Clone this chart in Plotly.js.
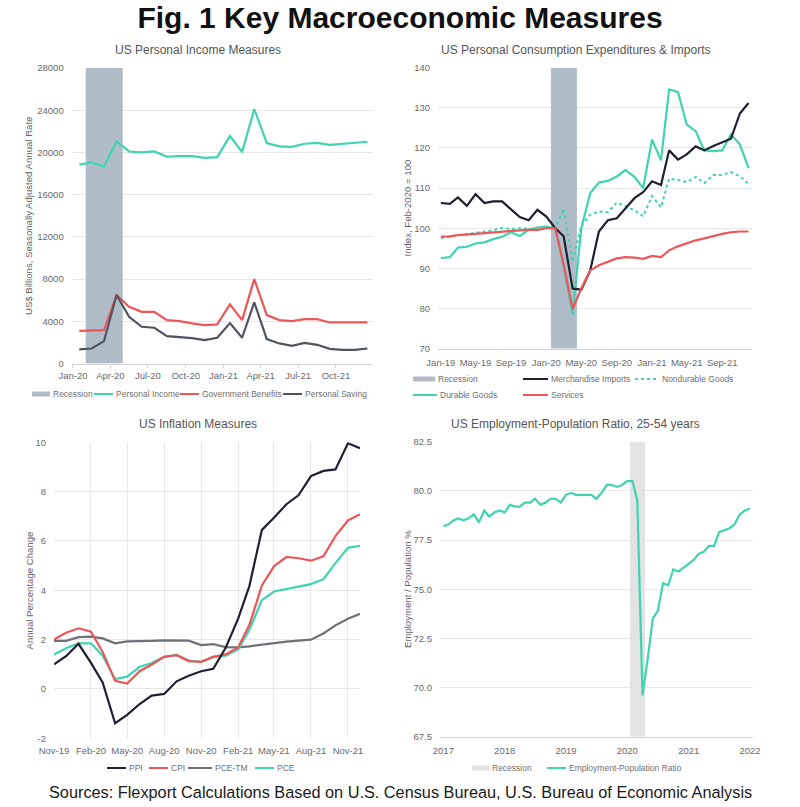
<!DOCTYPE html>
<html>
<head>
<meta charset="utf-8">
<script src="https://cdn.plot.ly/plotly-3.0.1.min.js"></script>
<style>
  html, body { margin: 0; padding: 0; background: #ffffff; }
  #chart { width: 800px; height: 807px; }
</style>
</head>
<body>
<div id="chart"></div>
<script>
// ---------------------------------------------------------------------------
// Data
// ---------------------------------------------------------------------------

// US personal income measures, US$ billions, SAAR (monthly, Jan-2020 .. Dec-2021)
const incomeMonths = [
  '2020-01','2020-02','2020-03','2020-04','2020-05','2020-06','2020-07','2020-08','2020-09','2020-10','2020-11','2020-12',
  '2021-01','2021-02','2021-03','2021-04','2021-05','2021-06','2021-07','2021-08','2021-09','2021-10','2021-11','2021-12'
];
const personalIncome = [18850, 19050, 18670, 21040, 20090, 20000, 20090, 19590, 19650, 19650, 19490, 19550,
                        21550, 20030, 24110, 20880, 20570, 20530, 20820, 20910, 20720, 20820, 20910, 21010];
const governmentBenefits = [3100, 3100, 3160, 6490, 5380, 4900, 4900, 4110, 4020, 3800, 3640, 3700,
                            5600, 4110, 8000, 4590, 4110, 4020, 4210, 4210, 3890, 3890, 3890, 3890];
const personalSaving = [1330, 1420, 2120, 6490, 4430, 3480, 3390, 2590, 2500, 2400, 2210, 2440,
                        3830, 2440, 5790, 2310, 1900, 1680, 1960, 1770, 1390, 1300, 1300, 1420];

// Personal consumption expenditures & merchandise imports, index Feb-2020 = 100 (Jan-2019 .. Dec-2021)
const pceMonths = [
  '2019-01','2019-02','2019-03','2019-04','2019-05','2019-06','2019-07','2019-08','2019-09','2019-10','2019-11','2019-12',
  '2020-01','2020-02','2020-03','2020-04','2020-05','2020-06','2020-07','2020-08','2020-09','2020-10','2020-11','2020-12',
  '2021-01','2021-02','2021-03','2021-04','2021-05','2021-06','2021-07','2021-08','2021-09','2021-10','2021-11','2021-12'
];
const merchandiseImports = [106.3, 106.1, 107.7, 105.6, 108.5, 106.3, 106.7, 106.7, 104.7, 102.8, 102.0, 104.6,
                            102.9, 100.0, 98.0, 85.0, 84.7, 89.5, 99.2, 102.0, 102.5, 105.0, 107.5, 109.0,
                            111.7, 110.8, 119.4, 117.1, 118.4, 120.4, 119.4, 120.5, 121.5, 122.3, 128.6, 131.2];
const nondurableGoods = [97.6, 97.9, 98.3, 98.6, 98.9, 99.2, 99.5, 100.1, 99.8, 100.0, 99.9, 99.6,
                         100.2, 100.0, 104.9, 91.7, 100.5, 103.4, 104.2, 104.0, 106.4, 105.5, 104.5, 103.0,
                         108.0, 105.2, 112.4, 112.0, 111.5, 112.8, 111.3, 113.3, 113.3, 114.0, 113.0, 111.0];
const durableGoods = [92.6, 92.8, 95.2, 95.4, 96.2, 96.5, 97.3, 97.9, 99.0, 98.1, 99.6, 100.2,
                      100.4, 100.0, 90.5, 78.5, 100.0, 108.8, 111.4, 111.8, 112.9, 114.5, 112.8, 110.0,
                      122.1, 116.9, 134.6, 133.9, 125.8, 124.2, 119.4, 119.2, 119.4, 123.4, 120.9, 115.0];
const services = [97.9, 98.0, 98.3, 98.4, 98.6, 98.8, 99.0, 99.2, 99.3, 99.5, 99.6, 99.6,
                  100.0, 100.0, 91.0, 79.9, 85.0, 89.5, 90.8, 91.7, 92.5, 92.8, 92.7, 92.4,
                  93.1, 92.8, 94.5, 95.5, 96.2, 97.0, 97.5, 98.1, 98.6, 99.0, 99.2, 99.2];

// Inflation measures, annual percentage change (Nov-2019 .. Dec-2021)
const inflationMonths = [
  '2019-11','2019-12',
  '2020-01','2020-02','2020-03','2020-04','2020-05','2020-06','2020-07','2020-08','2020-09','2020-10','2020-11','2020-12',
  '2021-01','2021-02','2021-03','2021-04','2021-05','2021-06','2021-07','2021-08','2021-09','2021-10','2021-11','2021-12'
];
const ppi = [1.0, 1.33, 1.83, 1.06, 0.26, -1.39, -1.05, -0.61, -0.27, -0.20, 0.31, 0.54, 0.72, 0.82,
             1.67, 2.85, 4.18, 6.45, 6.94, 7.49, 7.85, 8.63, 8.84, 8.90, 9.96, 9.76];
const cpi = [2.0, 2.28, 2.46, 2.32, 1.5, 0.33, 0.22, 0.72, 0.99, 1.3, 1.37, 1.13, 1.1, 1.3,
             1.4, 1.68, 2.6, 4.2, 4.97, 5.35, 5.3, 5.2, 5.38, 6.2, 6.83, 7.08];
const pceTrimmedMean = [1.95, 1.95, 2.1, 2.12, 2.05, 1.85, 1.93, 1.93, 1.95, 1.97, 1.96, 1.96, 1.78, 1.82,
                        1.7, 1.69, 1.73, 1.8, 1.88, 1.92, 1.96, 2.0, 2.25, 2.58, 2.85, 3.05];
const pce = [1.4, 1.65, 1.85, 1.85, 1.35, 0.4, 0.5, 0.9, 1.05, 1.3, 1.38, 1.15, 1.1, 1.3,
             1.35, 1.6, 2.4, 3.6, 3.95, 4.05, 4.15, 4.25, 4.45, 5.1, 5.72, 5.8];
const inflationTicks = [-2, 0, 2, 4, 6, 8, 10];

// Employment-population ratio, 25-54 years, % (Jan-2017 .. Jan-2022)
const employmentMonths = [
  '2017-01','2017-02','2017-03','2017-04','2017-05','2017-06','2017-07','2017-08','2017-09','2017-10','2017-11','2017-12',
  '2018-01','2018-02','2018-03','2018-04','2018-05','2018-06','2018-07','2018-08','2018-09','2018-10','2018-11','2018-12',
  '2019-01','2019-02','2019-03','2019-04','2019-05','2019-06','2019-07','2019-08','2019-09','2019-10','2019-11','2019-12',
  '2020-01','2020-02','2020-03','2020-04','2020-05','2020-06','2020-07','2020-08','2020-09','2020-10','2020-11','2020-12',
  '2021-01','2021-02','2021-03','2021-04','2021-05','2021-06','2021-07','2021-08','2021-09','2021-10','2021-11','2021-12',
  '2022-01'
];
const employmentRatio = [
  78.2, 78.3, 78.5, 78.6, 78.5, 78.6, 78.8, 78.4, 79.0, 78.7, 78.9, 79.0,
  78.9, 79.3, 79.2, 79.2, 79.4, 79.4, 79.6, 79.3, 79.4, 79.6, 79.6, 79.4,
  79.8, 79.9, 79.8, 79.8, 79.8, 79.8, 79.6, 79.9, 80.3, 80.3, 80.2, 80.3,
  80.5, 80.5, 79.5, 69.6, 71.4, 73.5, 73.9, 75.3, 75.2, 76.0, 75.9, 76.1,
  76.3, 76.5, 76.8, 76.9, 77.2, 77.2, 77.9, 78.0, 78.1, 78.3, 78.8, 79.0,
  79.1
];

// COVID-19 recession months
const recessionMonths = ['2020-02', '2020-03', '2020-04'];

// ---------------------------------------------------------------------------
// Styles and geometry helpers
// ---------------------------------------------------------------------------
const FONT = 'Liberation Sans, Arial, sans-serif';
const W = 800, H = 807;
const px = v => v / W;          // page pixel -> paper x
const py = v => 1 - v / H;      // page pixel -> paper y

const C = {
  teal: '#3fd3b0',
  red: '#ec5658',
  slate: '#4e5560',
  ink: '#1d2130',
  gray: '#6e717a',
  recession: '#b0bdc8',
  recessionLight: '#e3e3e3',
  grid: '#e7e7e7',
  axis: '#d3d3d3',
  tick: '#6a6a6a',
  label: '#666666'
};
const LINE_W = 2.2;

const DAY = 86400000;
function monthStartMs(s) { const [y, m] = s.split('-').map(Number); return Date.UTC(y, m - 1, 1); }
function nextMonthMs(s) { const [y, m] = s.split('-').map(Number); return Date.UTC(y, m, 1); }
function msToDate(ms) { return new Date(ms).toISOString().slice(0, 19).replace('T', ' '); }

// Span covered by the recession months. With points at mid-month the span runs
// month start to month end; with points at month start it is shifted half a month.
function recessionSpan(pointsAtMidMonth) {
  let a = monthStartMs(recessionMonths[0]);
  let b = nextMonthMs(recessionMonths[recessionMonths.length - 1]);
  if (!pointsAtMidMonth) { a -= 15 * DAY; b -= 15 * DAY; }
  return [msToDate(a), msToDate(b)];
}

function recessionTrace(xa, ya, yRange, color, midMonth, name) {
  const [a, b] = recessionSpan(midMonth);
  return {
    type: 'scatter', mode: 'none', name: name,
    x: [a, a, b, b, a], y: [yRange[0], yRange[1], yRange[1], yRange[0], yRange[0]],
    fill: 'toself', fillcolor: color,
    xaxis: xa, yaxis: ya, hoverinfo: 'skip'
  };
}

function lineTrace(name, x, y, xa, ya, color, extra) {
  return Object.assign({
    type: 'scatter', mode: 'lines', name: name, x: x, y: y,
    xaxis: xa, yaxis: ya,
    line: { color: color, width: LINE_W }
  }, extra || {});
}

const INCOME_RANGE = [0, 28000];
const PCE_RANGE = [70, 140];
const INFL_RANGE = [-2, 10];
const EMP_RANGE = [67.5, 82.5];

const midMonth = { xperiod: 'M1', xperiodalignment: 'middle' };

// ---------------------------------------------------------------------------
// Traces
// ---------------------------------------------------------------------------
const traces = [
  // Panel 1: personal income
  recessionTrace('x', 'y', INCOME_RANGE, C.recession, true, 'Recession'),
  lineTrace('Personal Income', incomeMonths, personalIncome, 'x', 'y', C.teal, midMonth),
  lineTrace('Government Benefits', incomeMonths, governmentBenefits, 'x', 'y', C.red, midMonth),
  lineTrace('Personal Saving', incomeMonths, personalSaving, 'x', 'y', C.slate, midMonth),

  // Panel 2: consumption & imports
  recessionTrace('x2', 'y2', PCE_RANGE, C.recession, false, 'Recession'),
  lineTrace('Nondurable Goods', pceMonths, nondurableGoods, 'x2', 'y2', C.teal,
            { line: { color: C.teal, width: 2, dash: 'dot' } }),
  lineTrace('Durable Goods', pceMonths, durableGoods, 'x2', 'y2', C.teal),
  lineTrace('Merchandise Imports', pceMonths, merchandiseImports, 'x2', 'y2', C.ink),
  lineTrace('Services', pceMonths, services, 'x2', 'y2', C.red),

  // Panel 3: inflation
  lineTrace('PCE-TM', inflationMonths, pceTrimmedMean, 'x3', 'y3', C.gray),
  lineTrace('PCE', inflationMonths, pce, 'x3', 'y3', C.teal),
  lineTrace('CPI', inflationMonths, cpi, 'x3', 'y3', C.red),
  lineTrace('PPI', inflationMonths, ppi, 'x3', 'y3', C.ink),

  // Panel 4: employment-population ratio
  recessionTrace('x4', 'y4', EMP_RANGE, C.recessionLight, false, 'Recession'),
  lineTrace('Employment-Population Ratio', employmentMonths, employmentRatio, 'x4', 'y4', C.teal)
];

// ---------------------------------------------------------------------------
// Axes
// ---------------------------------------------------------------------------
const tickfont = { family: FONT, size: 9.5, color: C.tick };

function xAxis(domain, anchor, opts) {
  return Object.assign({
    type: 'date', domain: domain, anchor: anchor,
    showgrid: false, zeroline: false,
    showline: true, linecolor: C.axis, linewidth: 1,
    ticks: 'outside', ticklen: 3, tickcolor: C.axis,
    tickfont: tickfont, fixedrange: true
  }, opts);
}
function yAxis(domain, anchor, opts) {
  return Object.assign({
    domain: domain, anchor: anchor,
    showgrid: true, gridcolor: C.grid, gridwidth: 1,
    zeroline: false, showline: false, ticks: '',
    ticklabelstandoff: 7,
    tickfont: tickfont, fixedrange: true
  }, opts);
}

const layout = {
  width: W, height: H,
  margin: { l: 0, r: 0, t: 0, b: 0 },
  paper_bgcolor: '#ffffff', plot_bgcolor: 'rgba(0,0,0,0)',
  showlegend: false, hovermode: false,
  font: { family: FONT, color: C.label },
  title: {
    text: 'Fig. 1 Key Macroeconomic Measures',
    x: 0.5, xanchor: 'center', y: py(17), yanchor: 'middle', yref: 'container',
    font: { family: FONT, size: 30, color: '#111111', weight: 700 }
  },

  xaxis: xAxis([px(71.7), px(373)], 'y', {
    range: ['2019-12-29', '2021-12-30'], tick0: '2020-01-01', dtick: 'M3', tickformat: '%b-%y'
  }),
  yaxis: yAxis([py(363.5), py(68)], 'x', {
    range: INCOME_RANGE, dtick: 4000, tickformat: 'd'
  }),

  xaxis2: xAxis([px(438), px(752)], 'y2', {
    range: ['2018-12-22', '2021-12-13'], tick0: '2019-01-01', dtick: 'M4', tickformat: '%b-%y',
    ticks: '', ticklabelstandoff: 5
  }),
  yaxis2: yAxis([py(348.7), py(67.7)], 'x2', {
    range: PCE_RANGE, dtick: 10
  }),

  xaxis3: xAxis([px(54), px(360)], 'y3', {
    range: ['2019-11-01', '2021-12-01'], tick0: '2019-11-01', dtick: 'M3', tickformat: '%b-%y',
    showgrid: true, gridcolor: C.grid, showline: false, ticks: '', ticklabelstandoff: 5
  }),
  yaxis3: yAxis([py(738.3), py(442.3)], 'x3', {
    range: INFL_RANGE, tickvals: inflationTicks, ticktext: inflationTicks.map(String)
  }),

  xaxis4: xAxis([px(440), px(752.7)], 'y4', {
    range: ['2016-12-12', '2022-01-17'], tick0: '2017-01-01', dtick: 'M12', tickformat: '%Y',
    ticks: '', ticklabelstandoff: 5
  }),
  yaxis4: yAxis([py(736.7), py(441.7)], 'x4', {
    range: EMP_RANGE, dtick: 2.5, tickformat: '.1f'
  }),

  shapes: [],
  annotations: []
};

// ---------------------------------------------------------------------------
// Panel titles, axis titles, footer
// ---------------------------------------------------------------------------
function text(t, xPix, yPix, size, color, opts) {
  layout.annotations.push(Object.assign({
    text: t, xref: 'paper', yref: 'paper', x: px(xPix), y: py(yPix),
    xanchor: 'center', yanchor: 'middle', showarrow: false, borderpad: 0,
    font: { family: FONT, size: size, color: color }
  }, opts || {}));
}

text('US Personal Income Measures', 197.5, 50, 12, '#555555');
text('US Personal Consumption Expenditures &amp; Imports', 575.8, 50, 12, '#555555');
text('US Inflation Measures', 197.5, 424, 12, '#555555');
text('US Employment-Population Ratio, 25-54 years', 575.7, 424, 12, '#555555');

text('US$ Billions, Seasonally Adjusted Annual Rate', 29, 216, 9.6, C.label, { textangle: -90 });
text('Index, Feb-2020 = 100', 407, 208.5, 9.6, C.label, { textangle: -90 });
text('Annual Percentage Change', 29, 590.5, 9.6, C.label, { textangle: -90 });
text('Employment / Population %', 407, 589, 9.6, C.label, { textangle: -90 });

text('Sources: Flexport Calculations Based on U.S. Census Bureau, U.S. Bureau of Economic Analysis',
     400, 792, 16.3, '#1a1a1a');

// ---------------------------------------------------------------------------
// Legends (one row or two under each panel); names and styles come from the traces
// ---------------------------------------------------------------------------
function traceStyle(name, xa) {
  const t = traces.find(tr => tr.name === name && tr.xaxis === xa);
  if (t.fill) return { box: true, color: t.fillcolor };
  return { box: false, color: t.line.color, dash: t.line.dash || 'solid' };
}

function legendItem(name, xa, x0, x1, yPix) {
  const st = traceStyle(name, xa);
  if (st.box) {
    layout.shapes.push({
      type: 'rect', xref: 'paper', yref: 'paper',
      x0: px(x0), x1: px(x1), y0: py(yPix - 2.5), y1: py(yPix + 2.5),
      fillcolor: st.color, line: { width: 0 }
    });
  } else {
    layout.shapes.push({
      type: 'line', xref: 'paper', yref: 'paper',
      x0: px(x0), x1: px(x1), y0: py(yPix), y1: py(yPix),
      line: { color: st.color, width: 2, dash: st.dash }
    });
  }
  text(name, x1 + 2, yPix, 8.5, '#707070', { xanchor: 'left' });
}

legendItem('Recession', 'x', 32, 50, 394);
legendItem('Personal Income', 'x', 94, 113, 394);
legendItem('Government Benefits', 'x', 180, 199, 394);
legendItem('Personal Saving', 'x', 283, 302, 394);

legendItem('Recession', 'x2', 413, 435, 379);
legendItem('Merchandise Imports', 'x2', 523, 548, 379);
legendItem('Nondurable Goods', 'x2', 635, 659, 379);
legendItem('Durable Goods', 'x2', 413, 437, 395);
legendItem('Services', 'x2', 523, 548, 395);

legendItem('PPI', 'x3', 107, 126, 768);
legendItem('CPI', 'x3', 149, 168, 768);
legendItem('PCE-TM', 'x3', 188, 212, 768);
legendItem('PCE', 'x3', 255, 274, 768);

legendItem('Recession', 'x4', 472, 489, 768);
legendItem('Employment-Population Ratio', 'x4', 547, 566, 768);

Plotly.newPlot('chart', traces, layout, { staticPlot: true, displayModeBar: false });
</script>
</body>
</html>
